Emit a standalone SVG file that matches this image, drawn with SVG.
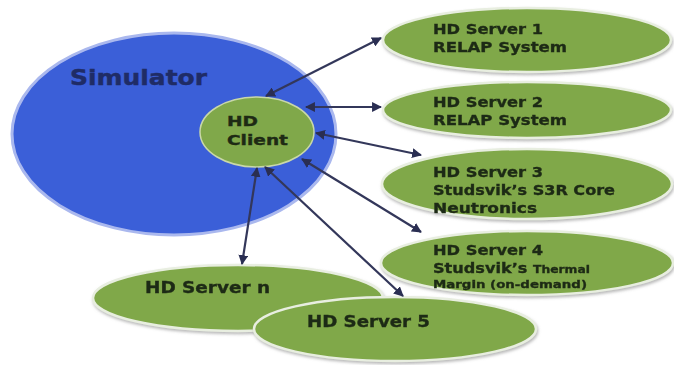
<svg xmlns="http://www.w3.org/2000/svg" width="674" height="365" viewBox="0 0 674 365">
<style>
.srv{fill:#80a84a;stroke:#e8eee0;stroke-width:2.5}
.t{font-family:"DejaVu Sans","Liberation Sans",sans-serif;font-weight:bold;fill:#1e2a14;stroke:#1e2a14;stroke-width:0.35;font-size:14px}
.s{font-size:11px}
.c{stroke:#33375a;stroke-width:2.2;fill:none;marker-start:url(#ah);marker-end:url(#ah)}
</style>
<defs>
<marker id="ah" viewBox="0 0 10 10" refX="9" refY="5" markerWidth="4.5" markerHeight="4.5" orient="auto-start-reverse">
<path d="M0,0 L10,5 L0,10 z" fill="#2a2e52"/>
</marker>
<filter id="sh" x="-10%" y="-20%" width="120%" height="150%">
<feDropShadow dx="1" dy="2" stdDeviation="1.5" flood-color="#8a8a8a" flood-opacity="0.6"/>
</filter>
</defs>
<rect width="674" height="365" fill="#ffffff"/>
<g id="simulator">
<ellipse cx="174" cy="134" rx="162" ry="101" fill="#3b5fd8" stroke="#aab8ee" stroke-width="3"/>
<text x="70" y="85" textLength="137" lengthAdjust="spacingAndGlyphs" style="font-family:'DejaVu Sans','Liberation Sans',sans-serif;font-weight:bold;font-size:21px;fill:#1f2c66;stroke:#1f2c66;stroke-width:0.4">Simulator</text>
</g>
<g id="server-n" filter="url(#sh)">
<ellipse class="srv" cx="238" cy="298" rx="145" ry="33"/>
<text class="t" x="145" y="293" textLength="125" lengthAdjust="spacingAndGlyphs" style="font-size:15px">HD Server n</text>
</g>
<g id="server-5" filter="url(#sh)">
<ellipse class="srv" cx="395" cy="329" rx="141" ry="32"/>
<text class="t" x="307" y="327" textLength="123" lengthAdjust="spacingAndGlyphs" style="font-size:15px">HD Server 5</text>
</g>
<g id="server-1" filter="url(#sh)">
<ellipse class="srv" cx="527" cy="40" rx="144" ry="32"/>
<text class="t" x="433" y="34" textLength="110" lengthAdjust="spacingAndGlyphs">HD Server 1</text>
<text class="t" x="433" y="52" textLength="134" lengthAdjust="spacingAndGlyphs">RELAP System</text>
</g>
<g id="server-2" filter="url(#sh)">
<ellipse class="srv" cx="527" cy="110" rx="144" ry="28"/>
<text class="t" x="433" y="107" textLength="110" lengthAdjust="spacingAndGlyphs">HD Server 2</text>
<text class="t" x="433" y="125" textLength="134" lengthAdjust="spacingAndGlyphs">RELAP System</text>
</g>
<g id="server-3" filter="url(#sh)">
<ellipse class="srv" cx="527" cy="184" rx="145" ry="35"/>
<text class="t" x="433" y="177" textLength="110" lengthAdjust="spacingAndGlyphs">HD Server 3</text>
<text class="t" x="433" y="195" textLength="182" lengthAdjust="spacingAndGlyphs">Studsvik’s S3R Core</text>
<text class="t" x="433" y="213" textLength="104" lengthAdjust="spacingAndGlyphs">Neutronics</text>
</g>
<g id="server-4" filter="url(#sh)">
<ellipse class="srv" cx="527" cy="263" rx="146" ry="32"/>
<text class="t" x="433" y="255" textLength="110" lengthAdjust="spacingAndGlyphs">HD Server 4</text>
<text class="t" x="433" y="273"><tspan textLength="100" lengthAdjust="spacingAndGlyphs">Studsvik’s </tspan><tspan class="s" textLength="57" lengthAdjust="spacingAndGlyphs">Thermal</tspan></text>
<text class="t s" x="433" y="288" textLength="154" lengthAdjust="spacingAndGlyphs">Margin (on-demand)</text>
</g>
<g id="hd-client">
<ellipse cx="257" cy="132" rx="57" ry="35" fill="#80a84a" stroke="#c9d8a8" stroke-width="1.5"/>
<text class="t" x="227" y="126" textLength="31" lengthAdjust="spacingAndGlyphs" style="font-size:13.5px">HD</text>
<text class="t" x="227" y="145" textLength="61" lengthAdjust="spacingAndGlyphs" style="font-size:13.5px">Client</text>
</g>
<g id="connectors">
<line class="c" x1="266" y1="96" x2="381" y2="38"/>
<line class="c" x1="306" y1="107" x2="381" y2="107"/>
<line class="c" x1="316" y1="133" x2="421" y2="155"/>
<line class="c" x1="302" y1="159" x2="421" y2="232"/>
<line class="c" x1="257" y1="168" x2="242" y2="264"/>
<line class="c" x1="265" y1="167" x2="403" y2="296"/>
</g>
</svg>
